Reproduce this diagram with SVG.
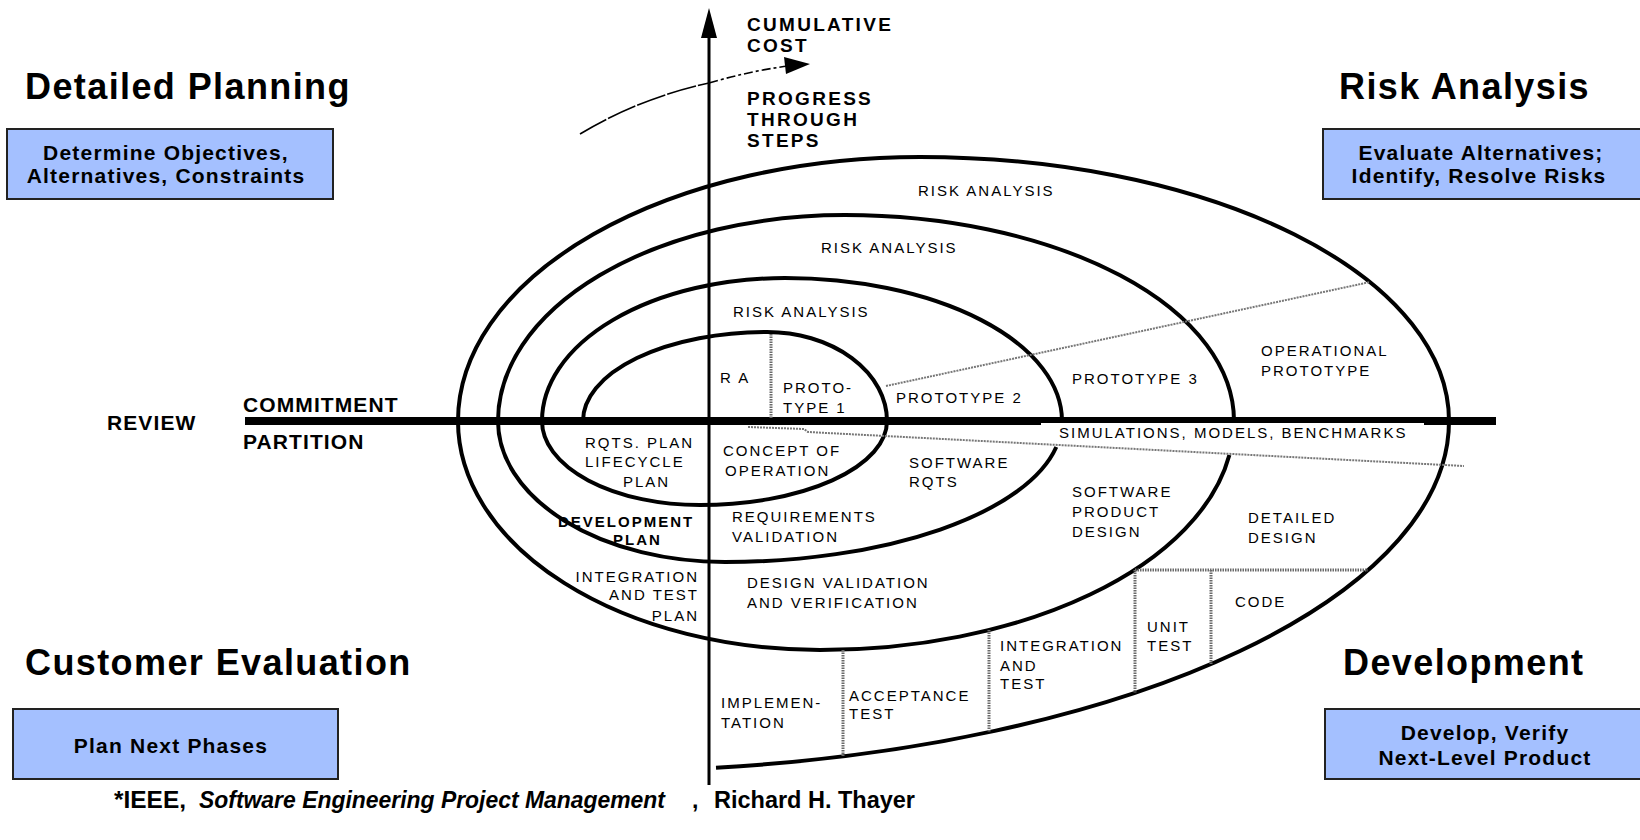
<svg xmlns="http://www.w3.org/2000/svg" width="1640" height="840" viewBox="0 0 1640 840">
  <style>
    text { font-family: "Liberation Sans", Arial, sans-serif; fill: #000; }
    .head { font-size: 36px; font-weight: bold; letter-spacing: 1.4px; }
    .box { fill: #A4C0FF; stroke: #222; stroke-width: 2; }
    .boxt { font-size: 21px; font-weight: bold; letter-spacing: 1.2px; text-anchor: middle; }
    .axt { font-size: 19px; font-weight: bold; letter-spacing: 2.3px; }
    .side { font-size: 21px; font-weight: bold; letter-spacing: 1.1px; }
    .lbl { font-size: 15px; letter-spacing: 2px; }
    .lblb { font-size: 15px; font-weight: bold; letter-spacing: 2px; }
    .end { text-anchor: end; }
    .spiral { fill: none; stroke: #000; stroke-width: 4; stroke-linejoin: round; }
    .dot { fill: none; stroke: #6a6a6a; stroke-width: 3; stroke-dasharray: 1.5 1; }
    .dotthin { fill: none; stroke: #777; stroke-width: 2; stroke-dasharray: 2 1; }
    .foot { font-size: 23px; font-weight: bold; }
  </style>

  <!-- quadrant captions -->
  <g id="q-detailed-planning">
    <text class="head" x="25" y="99">Detailed Planning</text>
    <rect class="box" x="7" y="129" width="326" height="70"/>
    <text class="boxt" x="166" y="160">Determine Objectives,</text>
    <text class="boxt" x="166" y="183">Alternatives, Constraints</text>
  </g>
  <g id="q-risk-analysis">
    <text class="head" x="1339" y="99">Risk Analysis</text>
    <rect class="box" x="1323" y="129" width="330" height="70"/>
    <text class="boxt" x="1481" y="160">Evaluate Alternatives;</text>
    <text class="boxt" x="1479" y="183">Identify, Resolve Risks</text>
  </g>
  <g id="q-customer-evaluation">
    <text class="head" x="25" y="675">Customer Evaluation</text>
    <rect class="box" x="13" y="709" width="325" height="70"/>
    <text class="boxt" x="171" y="753">Plan Next Phases</text>
  </g>
  <g id="q-development">
    <text class="head" x="1343" y="675">Development</text>
    <rect class="box" x="1325" y="709" width="330" height="70"/>
    <text class="boxt" x="1485" y="740">Develop, Verify</text>
    <text class="boxt" x="1485" y="765">Next-Level Product</text>
  </g>

  <!-- axes -->
  <g id="axes">
    <line x1="245" y1="421" x2="1496" y2="421" stroke="#000" stroke-width="8"/>
    <rect x="1041" y="423" width="383" height="14" fill="#fff"/>
    <line x1="709" y1="34" x2="709" y2="785" stroke="#000" stroke-width="3"/>
    <polygon points="709,8 701,38 717,38" fill="#000"/>
    <text class="axt" x="747" y="31">CUMULATIVE</text>
    <text class="axt" x="747" y="52">COST</text>
    <text class="axt" x="747" y="105">PROGRESS</text>
    <text class="axt" x="747" y="126">THROUGH</text>
    <text class="axt" x="747" y="147">STEPS</text>
    <path d="M580,134 Q640,98 709,83" fill="none" stroke="#000" stroke-width="1.6" stroke-dasharray="30 2"/>
    <path d="M709,83 Q750,71 788,66" fill="none" stroke="#000" stroke-width="1.6" stroke-dasharray="9 3 3 3"/>
    <polygon points="784,57 810,64 786,74" fill="#000"/>
    <text class="side" x="107" y="430">REVIEW</text>
    <text class="side" x="243" y="412">COMMITMENT</text>
    <text class="side" x="243" y="449">PARTITION</text>
  </g>

  <!-- spiral and the dotted dividers between its cells -->
  <g id="connectors">
    <path class="spiral" d="M583,421
      A184,89 0 0 1 767,332 A120,89 0 0 1 887,421
      A187,84 0 0 1 700,505 A158,84 0 0 1 542,421
      A243,143 0 0 1 785,278 A277,143 0 0 1 1062,421
      M1056.3,447 A337,141 0 0 1 725,562 A227,141 0 0 1 498,421
      A347,206 0 0 1 845,215 A389,206 0 0 1 1234,421
      M1229.4,455 A414,229 0 0 1 820,650 A362,229 0 0 1 458,421
      A462,264 0 0 1 920,157 A529,264 0 0 1 1449,421
      A849,350 0 0 1 716,767.7"/>
    <line class="dot" x1="771" y1="334" x2="771" y2="419"/>
    <line class="dotthin" x1="886" y1="386" x2="1370" y2="282"/>
    <polyline class="dotthin" points="748,427 804,429 808,432 1464,466"/>
    <line class="dot" x1="1135" y1="570" x2="1368" y2="570"/>
    <line class="dot" x1="843" y1="650" x2="843" y2="756"/>
    <line class="dot" x1="989" y1="630" x2="989" y2="732"/>
    <line class="dot" x1="1135" y1="570" x2="1135" y2="693"/>
    <line class="dot" x1="1211" y1="570" x2="1211" y2="664"/>
  </g>

  <!-- cell labels -->
  <g id="labels">
    <text class="lbl" x="918" y="196">RISK ANALYSIS</text>
    <text class="lbl" x="821" y="253">RISK ANALYSIS</text>
    <text class="lbl" x="733" y="317">RISK ANALYSIS</text>
    <text class="lbl" x="720" y="383">R A</text>
    <text class="lbl" x="783" y="393">PROTO-</text>
    <text class="lbl" x="783" y="413">TYPE 1</text>
    <text class="lbl" x="896" y="403">PROTOTYPE 2</text>
    <text class="lbl" x="1072" y="384">PROTOTYPE 3</text>
    <text class="lbl" x="1261" y="356">OPERATIONAL</text>
    <text class="lbl" x="1261" y="376">PROTOTYPE</text>
    <text class="lbl" x="1059" y="438">SIMULATIONS, MODELS, BENCHMARKS</text>
    <text class="lbl" x="585" y="448">RQTS. PLAN</text>
    <text class="lbl" x="585" y="467">LIFECYCLE</text>
    <text class="lbl" x="623" y="487">PLAN</text>
    <text class="lbl" x="723" y="456">CONCEPT OF</text>
    <text class="lbl" x="725" y="476">OPERATION</text>
    <text class="lbl" x="909" y="468">SOFTWARE</text>
    <text class="lbl" x="909" y="487">RQTS</text>
    <text class="lbl" x="1072" y="497">SOFTWARE</text>
    <text class="lbl" x="1072" y="517">PRODUCT</text>
    <text class="lbl" x="1072" y="537">DESIGN</text>
    <text class="lbl" x="1248" y="523">DETAILED</text>
    <text class="lbl" x="1248" y="543">DESIGN</text>
    <text class="lbl" x="732" y="522">REQUIREMENTS</text>
    <text class="lbl" x="732" y="542">VALIDATION</text>
    <text class="lblb" x="558" y="527">DEVELOPMENT</text>
    <text class="lblb" x="613" y="545">PLAN</text>
    <text class="lbl end" x="699" y="582">INTEGRATION</text>
    <text class="lbl end" x="699" y="600">AND TEST</text>
    <text class="lbl end" x="699" y="621">PLAN</text>
    <text class="lbl" x="747" y="588">DESIGN VALIDATION</text>
    <text class="lbl" x="747" y="608">AND VERIFICATION</text>
    <text class="lbl" x="1235" y="607">CODE</text>
    <text class="lbl" x="1147" y="632">UNIT</text>
    <text class="lbl" x="1147" y="651">TEST</text>
    <text class="lbl" x="1000" y="651">INTEGRATION</text>
    <text class="lbl" x="1000" y="671">AND</text>
    <text class="lbl" x="1000" y="689">TEST</text>
    <text class="lbl" x="849" y="701">ACCEPTANCE</text>
    <text class="lbl" x="849" y="719">TEST</text>
    <text class="lbl" x="721" y="708">IMPLEMEN-</text>
    <text class="lbl" x="721" y="728">TATION</text>
  </g>

  <!-- source note -->
  <g id="source">
    <text class="foot" x="114" y="808" textLength="72" lengthAdjust="spacingAndGlyphs">*IEEE,</text>
    <text class="foot" x="199" y="808" font-style="italic" textLength="466" lengthAdjust="spacingAndGlyphs">Software Engineering Project Management</text>
    <text class="foot" x="692" y="808">,</text>
    <text class="foot" x="714" y="808" textLength="201" lengthAdjust="spacingAndGlyphs">Richard H. Thayer</text>
  </g>
</svg>
